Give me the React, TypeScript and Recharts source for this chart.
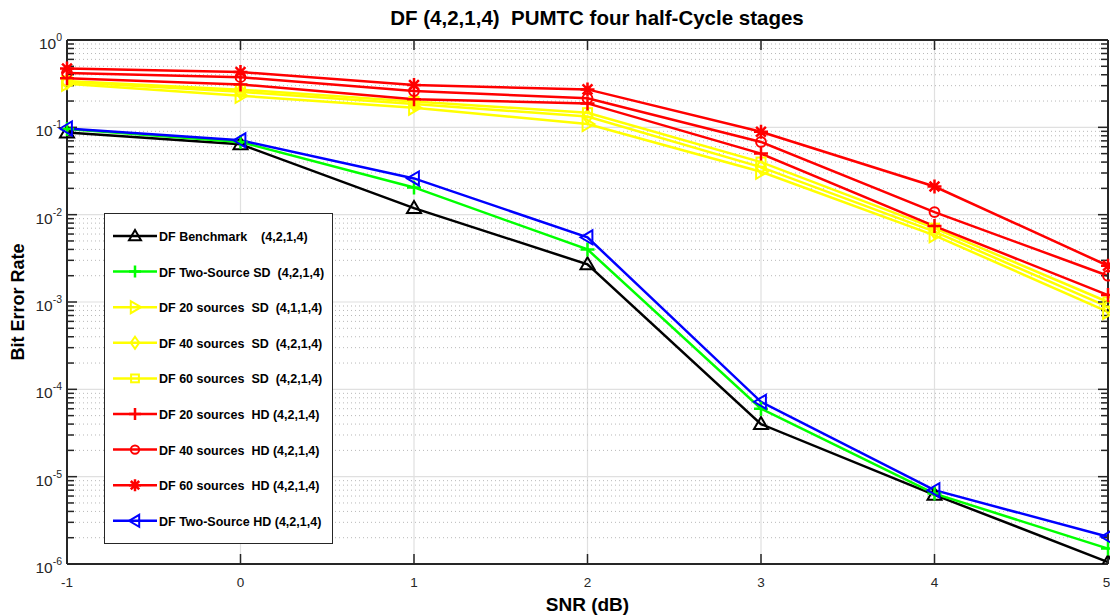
import React from "react";
import {
  LineChart,
  Line,
  XAxis,
  YAxis,
  CartesianGrid,
  ReferenceLine,
  Legend,
  Label,
} from "recharts";

// SNR points (dB)
const snr = [-1, 0, 1, 2, 3, 4, 5];

// BER, one array per curve
const benchmark = [0.087, 0.064, 0.0119, 0.0027, 4.0e-5, 6.2e-6, 1.05e-6];
const twoSourceSD = [0.096, 0.068, 0.0205, 0.004, 6.0e-5, 6.4e-6, 1.5e-6];
const sd20 = [0.315, 0.23, 0.168, 0.109, 0.031, 0.0058, 0.00077];
const sd40 = [0.33, 0.255, 0.185, 0.133, 0.035, 0.0064, 0.00088];
const sd60 = [0.34, 0.27, 0.198, 0.147, 0.04, 0.007, 0.001];
const hd20 = [0.365, 0.31, 0.21, 0.188, 0.05, 0.0074, 0.0012];
const hd40 = [0.42, 0.375, 0.26, 0.215, 0.068, 0.0107, 0.002];
const hd60 = [0.472, 0.43, 0.305, 0.272, 0.089, 0.021, 0.0026];
const twoSourceHD = [0.097, 0.071, 0.026, 0.0055, 7.2e-5, 7.0e-6, 2.05e-6];

const xTicks = [-1, 0, 1, 2, 3, 4, 5];
const yTicks = [1e-6, 1e-5, 1e-4, 1e-3, 1e-2, 1e-1, 1];

const FONT = "'Liberation Sans', Arial, Helvetica, sans-serif";
const AXIS = "#262626";

type Shape =
  | "triUp"
  | "plus"
  | "triRight"
  | "diamond"
  | "square"
  | "circle"
  | "star"
  | "triLeft";

const series: {
  key: string;
  name: string;
  color: string;
  shape: Shape;
  values: number[];
}[] = [
  { key: "benchmark", name: "DF Benchmark    (4,2,1,4)", color: "#000000", shape: "triUp", values: benchmark },
  { key: "twoSourceSD", name: "DF Two-Source SD  (4,2,1,4)", color: "#00ff00", shape: "plus", values: twoSourceSD },
  { key: "sd20", name: "DF 20 sources  SD  (4,1,1,4)", color: "#ffff00", shape: "triRight", values: sd20 },
  { key: "sd40", name: "DF 40 sources  SD  (4,2,1,4)", color: "#ffff00", shape: "diamond", values: sd40 },
  { key: "sd60", name: "DF 60 sources  SD  (4,2,1,4)", color: "#ffff00", shape: "square", values: sd60 },
  { key: "hd20", name: "DF 20 sources  HD (4,2,1,4)", color: "#ff0000", shape: "plus", values: hd20 },
  { key: "hd40", name: "DF 40 sources  HD (4,2,1,4)", color: "#ff0000", shape: "circle", values: hd40 },
  { key: "hd60", name: "DF 60 sources  HD (4,2,1,4)", color: "#ff0000", shape: "star", values: hd60 },
  { key: "twoSourceHD", name: "DF Two-Source HD (4,2,1,4)", color: "#0000ff", shape: "triLeft", values: twoSourceHD },
];

const data = snr.map((x, i) => {
  const row: Record<string, number> = { snr: x };
  series.forEach((s) => {
    row[s.key] = s.values[i];
  });
  return row;
});

// log-scale minor grid values 2..9 per decade
const minorTicks: number[] = [];
for (let e = -6; e < 0; e++) {
  for (let m = 2; m <= 9; m++) minorTicks.push(m * Math.pow(10, e));
}

function Marker({ shape, cx, cy, color, r = 7 }: { shape: Shape; cx: number; cy: number; color: string; r?: number }) {
  const p = { stroke: color, strokeWidth: 2, fill: "none" };
  switch (shape) {
    case "triUp":
      return <polygon points={`${cx},${cy - r} ${cx - r},${cy + r * 0.7} ${cx + r},${cy + r * 0.7}`} {...p} />;
    case "triRight":
      return <polygon points={`${cx + r},${cy} ${cx - r * 0.7},${cy - r} ${cx - r * 0.7},${cy + r}`} {...p} />;
    case "triLeft":
      return <polygon points={`${cx - r},${cy} ${cx + r * 0.7},${cy - r} ${cx + r * 0.7},${cy + r}`} {...p} />;
    case "diamond":
      return <polygon points={`${cx},${cy - r} ${cx + r * 0.7},${cy} ${cx},${cy + r} ${cx - r * 0.7},${cy}`} {...p} />;
    case "square":
      return <rect x={cx - r * 0.65} y={cy - r * 0.65} width={r * 1.3} height={r * 1.3} {...p} />;
    case "circle":
      return <circle cx={cx} cy={cy} r={r * 0.7} {...p} />;
    case "plus":
      return <path d={`M${cx - r},${cy}H${cx + r}M${cx},${cy - r}V${cy + r}`} {...p} strokeWidth={2.5} />;
    case "star": {
      const d = r * 0.7;
      return (
        <path
          d={`M${cx - r},${cy}H${cx + r}M${cx},${cy - r}V${cy + r}M${cx - d},${cy - d}L${cx + d},${cy + d}M${cx - d},${cy + d}L${cx + d},${cy - d}`}
          {...p}
          strokeWidth={2.5}
        />
      );
    }
  }
  return null;
}

function YTickLabel(props: any) {
  const { x, y, payload } = props;
  const exp = Math.round(Math.log10(payload.value));
  return (
    <text x={x} y={y + 9} textAnchor="end" fill={AXIS} fontSize={15.5} fontFamily={FONT}>
      10
      <tspan dy={-8} fontSize={10.5}>
        {exp}
      </tspan>
    </text>
  );
}

// tick marks only, no label
const NoLabel = () => <g />;

function LegendBox() {
  return (
    <svg width={229} height={331} style={{ display: "block" }}>
      <rect x={0.5} y={0.5} width={228} height={330} fill="#ffffff" stroke={AXIS} strokeWidth={1} />
      {series.map((s, i) => {
        const cy = 23 + i * 35.6;
        return (
          <g key={s.key}>
            <line x1={9} x2={53} y1={cy} y2={cy} stroke={s.color} strokeWidth={2.5} />
            <Marker shape={s.shape} cx={31} cy={cy} color={s.color} r={6} />
            <text
              x={55}
              y={cy + 5}
              fontSize={12.5}
              fontWeight="bold"
              fontFamily={FONT}
              fill="#000"
              xmlSpace="preserve"
              style={{ whiteSpace: "pre" }}
            >
              {s.name}
            </text>
          </g>
        );
      })}
    </svg>
  );
}

export default function App() {
  const tickLine = { stroke: AXIS, strokeWidth: 1.5 };
  return (
    <div
      style={{
        position: "absolute",
        left: 0,
        top: 0,
        width: 1110,
        height: 615,
        background: "#ffffff",
        fontFamily: FONT,
        overflow: "hidden",
      }}
    >
      <div
        style={{
          position: "absolute",
          left: 597,
          top: 6,
          transform: "translateX(-50%)",
          fontWeight: "bold",
          fontSize: 20.5,
          color: "#000",
          whiteSpace: "pre",
          zIndex: 2,
        }}
      >
        DF (4,2,1,4)  PUMTC four half-Cycle stages
      </div>
      <LineChart width={1110} height={615} data={data} margin={{ top: 40, right: 2, left: 0, bottom: 0 }}>
        <CartesianGrid stroke="#e0e0e0" strokeWidth={1.2} />
        {minorTicks.map((v) => (
          <ReferenceLine key={v} y={v} stroke="#b8b8b8" strokeWidth={1} strokeDasharray="1 3" />
        ))}

        <XAxis
          dataKey="snr"
          type="number"
          domain={[-1, 5]}
          ticks={xTicks}
          height={51}
          tickSize={0}
          tickMargin={13}
          tickLine={false}
          axisLine={{ stroke: AXIS, strokeWidth: 2 }}
          tick={{ fill: AXIS, fontSize: 13.5, fontFamily: FONT }}
        >
          <Label
            value="SNR (dB)"
            position="insideBottom"
            offset={4}
            style={{ fontWeight: "bold", fontSize: 19, fill: "#000", fontFamily: FONT }}
          />
        </XAxis>
        <XAxis xAxisId="top" orientation="top" mirror height={1} type="number" domain={[-1, 5]} ticks={xTicks} interval={0} tick={NoLabel} tickSize={10} tickLine={tickLine} axisLine={{ stroke: AXIS, strokeWidth: 2 }} />
        <XAxis xAxisId="bot" orientation="bottom" mirror height={1} type="number" domain={[-1, 5]} ticks={xTicks} interval={0} tick={NoLabel} tickSize={10} tickLine={tickLine} axisLine={false} />

        <YAxis
          type="number"
          scale="log"
          domain={[1e-6, 1]}
          allowDataOverflow
          ticks={yTicks}
          width={67}
          tickSize={0}
          tickMargin={5}
          tickLine={false}
          axisLine={{ stroke: AXIS, strokeWidth: 2 }}
          tick={<YTickLabel />}
        >
          <Label
            content={(props: any) => {
              const vb = props.viewBox || { x: 0, y: 40, height: 524 };
              const cx = vb.x + 18;
              const cy = vb.y + vb.height / 2;
              return (
                <text
                  x={cx}
                  y={cy}
                  transform={`rotate(-90 ${cx} ${cy})`}
                  textAnchor="middle"
                  dominantBaseline="central"
                  fontWeight="bold"
                  fontSize={18}
                  fontFamily={FONT}
                  fill="#000"
                >
                  Bit Error Rate
                </text>
              );
            }}
          />
        </YAxis>
        <YAxis yAxisId="lmaj" orientation="left" mirror width={1} type="number" scale="log" domain={[1e-6, 1]} allowDataOverflow ticks={yTicks} interval={0} tick={NoLabel} tickSize={10} tickLine={tickLine} axisLine={false} />
        <YAxis yAxisId="lmin" orientation="left" mirror width={1} type="number" scale="log" domain={[1e-6, 1]} allowDataOverflow ticks={minorTicks} interval={0} tick={NoLabel} tickSize={6} tickLine={tickLine} axisLine={false} />
        <YAxis yAxisId="rmaj" orientation="right" mirror width={1} type="number" scale="log" domain={[1e-6, 1]} allowDataOverflow ticks={yTicks} interval={0} tick={NoLabel} tickSize={10} tickLine={tickLine} axisLine={{ stroke: AXIS, strokeWidth: 2 }} />
        <YAxis yAxisId="rmin" orientation="right" mirror width={1} type="number" scale="log" domain={[1e-6, 1]} allowDataOverflow ticks={minorTicks} interval={0} tick={NoLabel} tickSize={6} tickLine={tickLine} axisLine={false} />

        {series.map((s) => (
          <Line
            key={s.key}
            type="linear"
            dataKey={s.key}
            name={s.name}
            stroke={s.color}
            strokeWidth={2.5}
            isAnimationActive={false}
            activeDot={false}
            dot={(p: any) => (
              <Marker key={`${s.key}-${p.index}`} shape={s.shape} cx={p.cx} cy={p.cy} color={s.color} />
            )}
          />
        ))}

        <Legend
          layout="vertical"
          align="center"
          verticalAlign="middle"
          wrapperStyle={{ left: 104, top: 213, width: 229, height: 331 }}
          content={() => <LegendBox />}
        />
      </LineChart>
    </div>
  );
}
